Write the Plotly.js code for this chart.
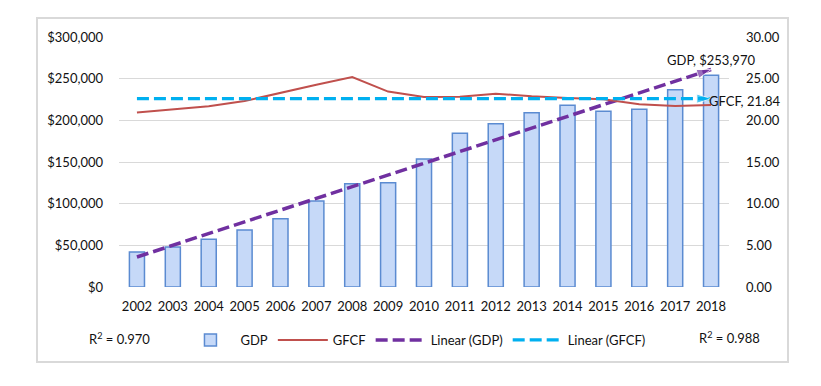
<!DOCTYPE html>
<html>
<head>
<meta charset="utf-8">
<script src="https://cdn.plot.ly/plotly-3.0.1.min.js"></script>
<style>
    html, body { margin: 0; padding: 0; background: #fff; }
    #frame {
        position: absolute; left: 36px; top: 17px;
        width: 753px; height: 346px;
        border: 2px solid #d9d9d9; box-sizing: border-box;
    }
    #chart { width: 749px; height: 342px; }
</style>
</head>
<body>
<div id="frame"><div id="chart"></div></div>
<script>
const YEARS = ["2002", "2003", "2004", "2005", "2006", "2007", "2008", "2009", "2010",
               "2011", "2012", "2013", "2014", "2015", "2016", "2017", "2018"];

// GDP in dollars (left axis)
const GDP = [42000, 48000, 57200, 68400, 82000, 103200, 124000, 125200, 153600,
             184400, 196000, 209200, 218000, 210800, 213200, 236800, 253970];

// GFCF (right axis)
const GFCF = [20.93, 21.32, 21.68, 22.32, 23.33, 24.28, 25.20, 23.45, 22.80,
              22.84, 23.20, 22.88, 22.68, 22.52, 21.92, 21.72, 21.84];

// trendline end points
const TREND_YEARS = ["2002", "2018"];
const GDP_TREND = [36000, 261000];
const GFCF_TREND = [22.6, 22.6];

const FONT = "Lato, 'Open Sans', sans-serif";
const TEXT = "#111";
const GRID = "#d9d9d9";
const PURPLE = "#7030a0";
const CYAN = "#00b0f0";

const PLOTLY_BASE = { responsive: false, displayModeBar: false, staticPlot: true };

function arrowHead(x, y, color, yaxis) {
    return {
        x, y, yaxis, type: "scatter", mode: "markers",
        marker: { symbol: "arrow", size: [0, 15], color, angleref: "previous" },
        showlegend: false, hoverinfo: "skip",
    };
}

const traces = [
    {
        x: YEARS, y: GDP, type: "bar", name: "GDP",
        marker: { color: "#c6d9f8", line: { color: "#5b8bd1", width: 1.5 } },
    },
    {
        x: YEARS, y: GFCF, type: "scatter", mode: "lines", name: "GFCF", yaxis: "y2",
        line: { color: "#c0504d", width: 2 },
    },
    {
        x: TREND_YEARS, y: GDP_TREND, type: "scatter", mode: "lines", name: "Linear (GDP)",
        line: { color: PURPLE, width: 3.5, dash: "12px,5px" },
    },
    arrowHead(TREND_YEARS, GDP_TREND, PURPLE, "y"),
    {
        x: TREND_YEARS, y: GFCF_TREND, type: "scatter", mode: "lines", name: "Linear (GFCF)",
        yaxis: "y2", line: { color: CYAN, width: 3.2, dash: "12px,5px" },
    },
    arrowHead(TREND_YEARS, GFCF_TREND, CYAN, "y2"),
];

const last = YEARS.length - 1;

const layout = {
    width: 749, height: 342,
    margin: { l: 81, r: 58, t: 18, b: 74, autoexpand: false },
    paper_bgcolor: "#fff",
    plot_bgcolor: "#fff",
    font: { family: FONT, size: 13, color: TEXT },
    bargap: 0.58,
    xaxis: {
        type: "category", range: [-0.5, last + 0.5], autorange: false,
        showgrid: false, zeroline: false, showline: false,
        ticks: "", ticklabelstandoff: 10,
    },
    yaxis: {
        range: [0, 300000], autorange: false, dtick: 50000, tickprefix: "$", tickformat: ",",
        gridcolor: GRID, gridwidth: 1, zeroline: false, showline: false,
        ticklabelstandoff: 15,
    },
    yaxis2: {
        range: [0, 30], autorange: false, dtick: 5, tickformat: ".2f", overlaying: "y", side: "right",
        showgrid: false, zeroline: false, showline: false, ticklabelstandoff: 16,
    },
    showlegend: true,
    legend: {
        orientation: "h", x: 0.486, xanchor: "center", y: -0.212, yanchor: "middle",
        font: { size: 13 }, traceorder: "normal", itemwidth: 50,
    },
    annotations: [
        { x: last, y: 273000, xref: "x", yref: "y", text: "GDP, $253,970",
          showarrow: false, xanchor: "center", yanchor: "middle", font: { size: 13 } },
        { x: last, y: 22.3, xref: "x", yref: "y2", text: "GFCF, 21.84",
          showarrow: false, xanchor: "left", yanchor: "middle", xshift: -4, font: { size: 13 } },
        { x: 0, y: -0.206, xref: "paper", yref: "paper", text: "R<sup>2</sup> = 0.970",
          showarrow: false, xanchor: "center", yanchor: "middle", font: { size: 13 } },
        { x: 1, y: -0.202, xref: "paper", yref: "paper", text: "R<sup>2</sup> = 0.988",
          showarrow: false, xanchor: "center", yanchor: "middle", font: { size: 13 } },
    ],
};

Plotly.newPlot(document.getElementById("chart"), traces, layout, PLOTLY_BASE);
</script>
</body>
</html>
